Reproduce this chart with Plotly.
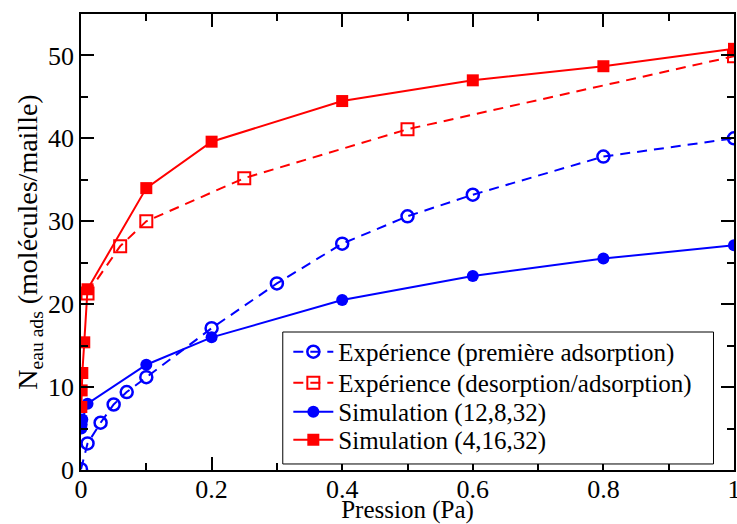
import plotly.graph_objects as go

# Simulation (4,16,32) - filled red squares
sim4_x = [0.0005, 0.001, 0.002, 0.005, 0.01, 0.1, 0.2, 0.4, 0.6, 0.8, 1.0]
sim4_y = [7.6, 9.6, 11.7, 15.4, 21.8, 34.0, 39.6, 44.5, 47.0, 48.7, 50.8]

# Expérience (desorption/adsorption) - open red squares
exp2_x = [0.01, 0.06, 0.1, 0.25, 0.5, 1.0]
exp2_y = [21.3, 27.0, 30.0, 35.2, 41.1, 49.9]

# Expérience (première adsorption) - open blue circles
exp1_x = [0.0, 0.01, 0.03, 0.05, 0.07, 0.1, 0.2, 0.3, 0.4, 0.5, 0.6, 0.8, 1.0]
exp1_y = [0.1, 3.2, 5.7, 7.9, 9.4, 11.2, 17.1, 22.5, 27.3, 30.6, 33.2, 37.8, 40.0]

# Simulation (12,8,32) - filled blue circles
sim12_x = [0.0005, 0.001, 0.002, 0.01, 0.1, 0.2, 0.4, 0.6, 0.8, 1.0]
sim12_y = [5.0, 5.5, 6.1, 8.0, 12.7, 16.0, 20.5, 23.4, 25.5, 27.1]

x_ticks = [0, 0.2, 0.4, 0.6, 0.8, 1.0]
x_ticklabels = ["0", "0.2", "0.4", "0.6", "0.8", "1"]

RED = "#ff0000"
BLUE = "#0000ff"
FONT = "Liberation Serif"

fig = go.Figure()
fig.add_trace(go.Scatter(
    x=exp1_x, y=exp1_y, mode="lines+markers",
    name="Expérience (première adsorption)", legend="legend",
    line=dict(color=BLUE, width=2, dash="10px,7px"),
    marker=dict(symbol="circle-open", size=12, color=BLUE, line=dict(width=2.5)),
))
fig.add_trace(go.Scatter(
    x=exp2_x, y=exp2_y, mode="lines+markers",
    name="Expérience (desorption/adsorption)", legend="legend2",
    line=dict(color=RED, width=2, dash="10px,7px"),
    marker=dict(symbol="square-open", size=12, color=RED, line=dict(width=2)),
))
fig.add_trace(go.Scatter(
    x=sim12_x, y=sim12_y, mode="lines+markers",
    name="Simulation (12,8,32)", legend="legend3",
    line=dict(color=BLUE, width=2),
    marker=dict(symbol="circle", size=12, color=BLUE),
))
fig.add_trace(go.Scatter(
    x=sim4_x, y=sim4_y, mode="lines+markers",
    name="Simulation (4,16,32)", legend="legend4",
    line=dict(color=RED, width=2),
    marker=dict(symbol="square", size=12, color=RED),
))

axis_common = dict(
    showline=True, linecolor="black", linewidth=1.5, mirror="ticks",
    ticks="inside", ticklen=13, tickwidth=1.5, tickcolor="black",
    showgrid=False, zeroline=False, ticklabeloverflow="allow", automargin=False,
    tickfont=dict(family=FONT, size=26, color="black"),
)

def row_legend(ypos):
    return dict(
        x=0.3175, y=ypos, xanchor="left", yanchor="middle",
        bgcolor="rgba(0,0,0,0)", borderwidth=0,
        font=dict(family=FONT, size=25, color="black"),
        itemwidth=40,
    )

fig.update_layout(
    width=737, height=524,
    margin=dict(l=81, r=3, t=14, b=54, autoexpand=False),
    paper_bgcolor="white", plot_bgcolor="white",
    font=dict(family=FONT, size=25, color="black"),
    xaxis=dict(
        range=[0, 1.00001], tickmode="array", tickvals=x_ticks, ticktext=x_ticklabels,
        ticklabelstandoff=-5,
        minor=dict(tickmode="array", tickvals=[0.1, 0.3, 0.5, 0.7, 0.9],
                   ticklen=7, tickwidth=1.5, tickcolor="black", ticks="inside"),
        title=dict(text="Pression (Pa)", font=dict(family=FONT, size=25), standoff=4),
        **axis_common,
    ),
    yaxis=dict(
        range=[0, 55], dtick=10, tick0=0,
        minor=dict(dtick=5, ticklen=7, tickwidth=1.5, tickcolor="black", ticks="inside"),
        title=dict(text="N<sub>eau ads</sub> (molécules/maille)", font=dict(family=FONT, size=28), standoff=2),
        **axis_common,
    ),
    legend=row_legend(0.2588),
    legend2=row_legend(0.1908),
    legend3=row_legend(0.1272),
    legend4=row_legend(0.0658),
    shapes=[dict(
        type="rect", xref="paper", yref="paper",
        x0=0.309, x1=0.9686, y0=0.0132, y1=0.3026,
        line=dict(color="black", width=1), fillcolor="white", layer="above",
    )],
    showlegend=True,
)

fig.write_html("out.html")
